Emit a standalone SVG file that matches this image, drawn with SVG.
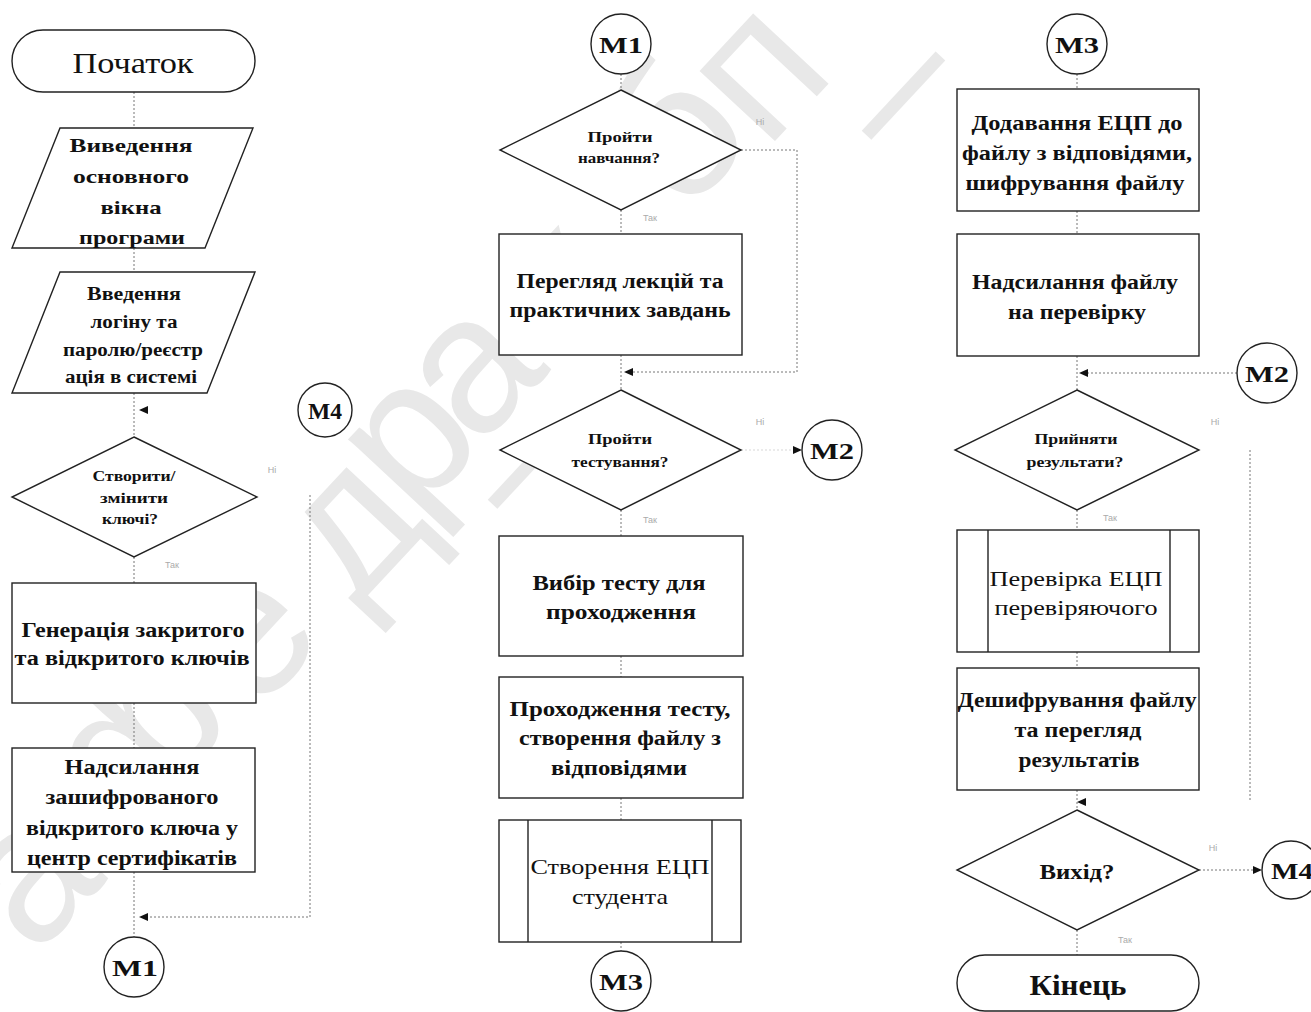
<svg xmlns="http://www.w3.org/2000/svg" xmlns:xlink="http://www.w3.org/1999/xlink" width="1311" height="1012" viewBox="0 0 1311 1012">
<defs>
<style>
.sh{fill:#fff;stroke:#222;stroke-width:1.4}
.ln{fill:none;stroke:#777;stroke-width:1;stroke-dasharray:2 2}
.t{font-family:"Liberation Serif","DejaVu Serif",serif;font-weight:bold;fill:#111;text-anchor:middle}
.n{font-weight:normal}
.yn{font-family:"Liberation Sans",sans-serif;font-size:9px;fill:#aaa;text-anchor:middle}
.wm{font-family:"Liberation Sans","DejaVu Sans",sans-serif;font-size:195px;fill:#e8e8e8;text-anchor:middle;dominant-baseline:central}
</style>
<path id="ahL" d="M0,0 L9,-4 L9,4 Z" fill="#111"/>
<path id="ahR" d="M0,0 L-9,-4 L-9,4 Z" fill="#111"/>
</defs>
<rect width="1311" height="1012" fill="#fff"/>
<g id="watermark">
<text class="wm" transform="translate(22,872) rotate(-47)">а</text>
<text class="wm" transform="translate(133,730) rotate(-47)">ф</text>
<text class="wm" transform="translate(242,630) rotate(-47)">е</text>
<text class="wm" transform="translate(345,520) rotate(-47)">д</text>
<text class="wm" transform="translate(402,433) rotate(-47)">р</text>
<text class="wm" transform="translate(465,363) rotate(-47)">а</text>
<text class="wm" transform="translate(516,452) rotate(-47)">–</text>
<text class="wm" transform="translate(555,280) rotate(-47)">к</text>
<text class="wm" transform="translate(670,132) rotate(-47)">б</text>
<text class="wm" transform="translate(752,66) rotate(-47)">п</text>
<text class="wm" transform="translate(890,83) rotate(-47)">–</text>
</g>
<g id="connectors">
<line class="ln" x1="134" y1="92" x2="134" y2="128"/>
<line class="ln" x1="134" y1="248" x2="134" y2="272"/>
<line class="ln" x1="134" y1="393" x2="134" y2="437"/>
<line class="ln" x1="134" y1="557" x2="134" y2="583"/>
<line class="ln" x1="134" y1="703" x2="134" y2="748"/>
<line class="ln" x1="134" y1="872" x2="134" y2="937"/>
<polyline class="ln" points="310,495 310,917 148,917"/>
<use xlink:href="#ahL" x="139" y="917"/>
<use xlink:href="#ahL" x="139" y="410"/>
<line class="ln" x1="621" y1="74" x2="621" y2="90"/>
<line class="ln" x1="621" y1="210" x2="621" y2="234"/>
<polyline class="ln" points="741,150 797,150 797,372 633,372"/>
<line class="ln" x1="621" y1="355" x2="621" y2="390"/>
<use xlink:href="#ahL" x="624" y="372"/>
<line class="ln" x1="741" y1="450" x2="794" y2="450" stroke-opacity="0.3"/>
<use xlink:href="#ahR" x="802" y="450"/>
<line class="ln" x1="621" y1="510" x2="621" y2="536"/>
<line class="ln" x1="621" y1="656" x2="621" y2="677"/>
<line class="ln" x1="621" y1="798" x2="621" y2="820"/>
<line class="ln" x1="621" y1="942" x2="621" y2="951"/>
<line class="ln" x1="1077" y1="74" x2="1077" y2="89"/>
<line class="ln" x1="1077" y1="211" x2="1077" y2="234"/>
<line class="ln" x1="1077" y1="356" x2="1077" y2="390"/>
<line class="ln" x1="1237" y1="373" x2="1088" y2="373"/>
<use xlink:href="#ahL" x="1079" y="373"/>
<line class="ln" x1="1250" y1="450" x2="1250" y2="800"/>
<line class="ln" x1="1077" y1="510" x2="1077" y2="530"/>
<line class="ln" x1="1077" y1="652" x2="1077" y2="668"/>
<line class="ln" x1="1077" y1="790" x2="1077" y2="810"/>
<use xlink:href="#ahL" x="1077" y="802"/>
<line class="ln" x1="1199" y1="870" x2="1253" y2="870"/>
<use xlink:href="#ahR" x="1262" y="870"/>
<line class="ln" x1="1077" y1="930" x2="1077" y2="955"/>
</g>
<g id="labels">
<text class="yn" x="272" y="473">Ні</text>
<text class="yn" x="172" y="568">Так</text>
<text class="yn" x="760" y="125">Ні</text>
<text class="yn" x="650" y="221">Так</text>
<text class="yn" x="760" y="425">Ні</text>
<text class="yn" x="650" y="523">Так</text>
<text class="yn" x="1215" y="425">Ні</text>
<text class="yn" x="1110" y="521">Так</text>
<text class="yn" x="1213" y="851">Ні</text>
<text class="yn" x="1125" y="943">Так</text>
</g>
<g id="n-start">
<rect class="sh" x="12" y="30" width="243" height="62" rx="31"/>
<text class="t n" x="133" y="73" font-size="30" textLength="121" lengthAdjust="spacingAndGlyphs">Початок</text>
</g>
<g id="n-input1">
<polygon class="sh" points="60,128 253,128 205,248 12,248"/>
<text class="t" font-size="19"><tspan x="131" y="152" textLength="123" lengthAdjust="spacingAndGlyphs">Виведення</tspan><tspan x="131" y="183" textLength="116" lengthAdjust="spacingAndGlyphs">основного</tspan><tspan x="131" y="214" textLength="61" lengthAdjust="spacingAndGlyphs">вікна</tspan><tspan x="132" y="244" textLength="106" lengthAdjust="spacingAndGlyphs">програми</tspan></text>
</g>
<g id="n-input2">
<polygon class="sh" points="60,272 255,272 207,393 12,393"/>
<text class="t" font-size="18"><tspan x="134" y="300" textLength="94" lengthAdjust="spacingAndGlyphs">Введення</tspan><tspan x="134" y="328" textLength="87" lengthAdjust="spacingAndGlyphs">логіну та</tspan><tspan x="133" y="356" textLength="140" lengthAdjust="spacingAndGlyphs">паролю/реєстр</tspan><tspan x="131" y="383" textLength="132" lengthAdjust="spacingAndGlyphs">ація в системі</tspan></text>
</g>
<g id="n-m4a">
<circle class="sh" cx="325" cy="410" r="27"/>
<text class="t" x="325" y="419" font-size="23" textLength="34" lengthAdjust="spacingAndGlyphs">M4</text>
</g>
<g id="n-dec1">
<polygon class="sh" points="134,437 257,497 134,557 12,497"/>
<text class="t" font-size="15"><tspan x="134" y="481" textLength="83" lengthAdjust="spacingAndGlyphs">Створити/</tspan><tspan x="134" y="503" textLength="68" lengthAdjust="spacingAndGlyphs">змінити</tspan><tspan x="130" y="524" textLength="56" lengthAdjust="spacingAndGlyphs">ключі?</tspan></text>
</g>
<g id="n-gen">
<rect class="sh" x="12" y="583" width="244" height="120"/>
<text class="t" font-size="20"><tspan x="133" y="637" textLength="223" lengthAdjust="spacingAndGlyphs">Генерація закритого</tspan><tspan x="132" y="665" textLength="235" lengthAdjust="spacingAndGlyphs">та відкритого ключів</tspan></text>
</g>
<g id="n-send">
<rect class="sh" x="12" y="748" width="243" height="124"/>
<text class="t" font-size="20"><tspan x="132" y="774" textLength="135" lengthAdjust="spacingAndGlyphs">Надсилання</tspan><tspan x="132" y="804" textLength="173" lengthAdjust="spacingAndGlyphs">зашифрованого</tspan><tspan x="132" y="835" textLength="212" lengthAdjust="spacingAndGlyphs">відкритого ключа у</tspan><tspan x="132" y="865" textLength="210" lengthAdjust="spacingAndGlyphs">центр сертифікатів</tspan></text>
</g>
<g id="n-m1a">
<circle class="sh" cx="134" cy="967" r="30"/>
<text class="t" x="135" y="976" font-size="24" textLength="46" lengthAdjust="spacingAndGlyphs">M1</text>
</g>
<g id="n-m1b">
<circle class="sh" cx="621" cy="44" r="30"/>
<text class="t" x="621" y="53" font-size="24" textLength="44" lengthAdjust="spacingAndGlyphs">M1</text>
</g>
<g id="n-dec2">
<polygon class="sh" points="621,90 741,150 621,210 500,150"/>
<text class="t" font-size="15"><tspan x="620" y="142" textLength="65" lengthAdjust="spacingAndGlyphs">Пройти</tspan><tspan x="619" y="163" textLength="82" lengthAdjust="spacingAndGlyphs">навчання?</tspan></text>
</g>
<g id="n-lect">
<rect class="sh" x="499" y="234" width="243" height="121"/>
<text class="t" font-size="20"><tspan x="620" y="288" textLength="207" lengthAdjust="spacingAndGlyphs">Перегляд лекцій та</tspan><tspan x="620" y="317" textLength="221" lengthAdjust="spacingAndGlyphs">практичних завдань</tspan></text>
</g>
<g id="n-dec3">
<polygon class="sh" points="621,390 741,450 621,510 500,450"/>
<text class="t" font-size="15"><tspan x="620" y="444" textLength="64" lengthAdjust="spacingAndGlyphs">Пройти</tspan><tspan x="620" y="467" textLength="97" lengthAdjust="spacingAndGlyphs">тестування?</tspan></text>
</g>
<g id="n-m2a">
<circle class="sh" cx="832" cy="450" r="30"/>
<text class="t" x="832" y="459" font-size="24" textLength="44" lengthAdjust="spacingAndGlyphs">M2</text>
</g>
<g id="n-choose">
<rect class="sh" x="499" y="536" width="244" height="120"/>
<text class="t" font-size="20"><tspan x="619" y="590" textLength="173" lengthAdjust="spacingAndGlyphs">Вибір тесту для</tspan><tspan x="621" y="619" textLength="150" lengthAdjust="spacingAndGlyphs">проходження</tspan></text>
</g>
<g id="n-pass">
<rect class="sh" x="499" y="677" width="244" height="121"/>
<text class="t" font-size="20"><tspan x="620" y="716" textLength="221" lengthAdjust="spacingAndGlyphs">Проходження тесту,</tspan><tspan x="620" y="745" textLength="202" lengthAdjust="spacingAndGlyphs">створення файлу з</tspan><tspan x="619" y="775" textLength="136" lengthAdjust="spacingAndGlyphs">відповідями</tspan></text>
</g>
<g id="n-sign">
<rect class="sh" x="499" y="820" width="242" height="122"/>
<line class="sh" x1="528" y1="820" x2="528" y2="942"/>
<line class="sh" x1="712" y1="820" x2="712" y2="942"/>
<text class="t n" font-size="21"><tspan x="620" y="874" textLength="179" lengthAdjust="spacingAndGlyphs">Створення ЕЦП</tspan><tspan x="620" y="904" textLength="96" lengthAdjust="spacingAndGlyphs">студента</tspan></text>
</g>
<g id="n-m3a">
<circle class="sh" cx="621" cy="981" r="30"/>
<text class="t" x="621" y="990" font-size="24" textLength="44" lengthAdjust="spacingAndGlyphs">M3</text>
</g>
<g id="n-m3b">
<circle class="sh" cx="1077" cy="44" r="30"/>
<text class="t" x="1077" y="53" font-size="24" textLength="44" lengthAdjust="spacingAndGlyphs">M3</text>
</g>
<g id="n-add">
<rect class="sh" x="957" y="89" width="242" height="122"/>
<text class="t" font-size="20"><tspan x="1077" y="130" textLength="211" lengthAdjust="spacingAndGlyphs">Додавання ЕЦП до</tspan><tspan x="1077" y="160" textLength="230" lengthAdjust="spacingAndGlyphs">файлу з відповідями,</tspan><tspan x="1075" y="190" textLength="219" lengthAdjust="spacingAndGlyphs">шифрування файлу</tspan></text>
</g>
<g id="n-check">
<rect class="sh" x="957" y="234" width="242" height="122"/>
<text class="t" font-size="20"><tspan x="1075" y="289" textLength="206" lengthAdjust="spacingAndGlyphs">Надсилання файлу</tspan><tspan x="1077" y="319" textLength="138" lengthAdjust="spacingAndGlyphs">на перевірку</tspan></text>
</g>
<g id="n-m2b">
<circle class="sh" cx="1267" cy="373" r="30"/>
<text class="t" x="1267" y="382" font-size="24" textLength="44" lengthAdjust="spacingAndGlyphs">M2</text>
</g>
<g id="n-dec4">
<polygon class="sh" points="1077,390 1199,450 1077,510 955,450"/>
<text class="t" font-size="15"><tspan x="1076" y="444" textLength="83" lengthAdjust="spacingAndGlyphs">Прийняти</tspan><tspan x="1075" y="467" textLength="97" lengthAdjust="spacingAndGlyphs">результати?</tspan></text>
</g>
<g id="n-verify">
<rect class="sh" x="957" y="530" width="242" height="122"/>
<line class="sh" x1="988" y1="530" x2="988" y2="652"/>
<line class="sh" x1="1170" y1="530" x2="1170" y2="652"/>
<text class="t n" font-size="21"><tspan x="1076" y="586" textLength="173" lengthAdjust="spacingAndGlyphs">Перевірка ЕЦП</tspan><tspan x="1076" y="615" textLength="163" lengthAdjust="spacingAndGlyphs">перевіряючого</tspan></text>
</g>
<g id="n-decrypt">
<rect class="sh" x="957" y="668" width="242" height="122"/>
<text class="t" font-size="20"><tspan x="1077" y="707" textLength="239" lengthAdjust="spacingAndGlyphs">Дешифрування файлу</tspan><tspan x="1078" y="737" textLength="127" lengthAdjust="spacingAndGlyphs">та перегляд</tspan><tspan x="1079" y="767" textLength="121" lengthAdjust="spacingAndGlyphs">результатів</tspan></text>
</g>
<g id="n-dec5">
<polygon class="sh" points="1077,810 1199,870 1077,930 957,870"/>
<text class="t" x="1077" y="879" font-size="22" textLength="75" lengthAdjust="spacingAndGlyphs">Вихід?</text>
</g>
<g id="n-m4b">
<circle class="sh" cx="1291" cy="870" r="29"/>
<text class="t" x="1292" y="879" font-size="24" textLength="42" lengthAdjust="spacingAndGlyphs">M4</text>
</g>
<g id="n-end">
<rect class="sh" x="957" y="955" width="242" height="56" rx="28"/>
<text class="t" x="1078" y="995" font-size="30" textLength="97" lengthAdjust="spacingAndGlyphs">Кінець</text>
</g>
</svg>
